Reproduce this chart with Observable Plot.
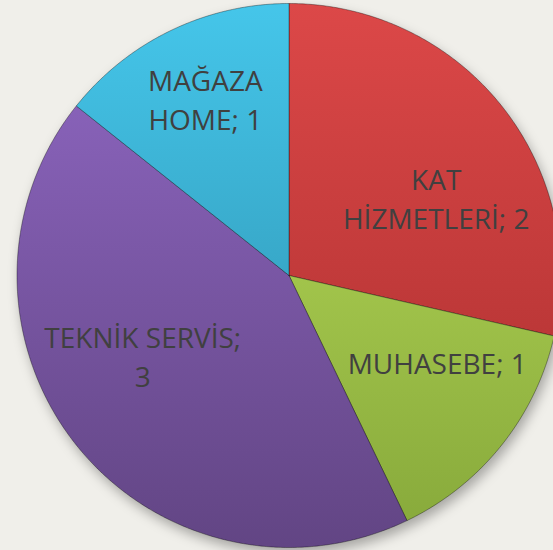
<!DOCTYPE html>
<html>
<head>
<meta charset="utf-8">
<script src="https://cdn.jsdelivr.net/npm/d3@7"></script>
<script src="https://cdn.jsdelivr.net/npm/@observablehq/plot@0.6"></script>
<style>
  html, body { margin: 0; padding: 0; background: #f0efea; }
  #chart svg { display: block; }
</style>
</head>
<body>
<div id="chart"></div>
<script>
// Data
const categories = ["KAT HİZMETLERİ", "MUHASEBE", "TEKNİK SERVİS", "MAĞAZA HOME"];
const values = [2, 1, 3, 1];
const labels = ["KAT\nHİZMETLERİ; 2", "MUHASEBE; 1", "TEKNİK SERVİS;\n3", "MAĞAZA\nHOME; 1"];
const colorsTop = ["#dc4848", "#bde05c", "#9068c4", "#45c6ea"];
const colorsBottom = ["#a82d2d", "#86a83a", "#624584", "#2a89a6"];

const W = 553, H = 550;
const pie = d3.pie().sort(null).value(d => d.value);
const arcs = pie(categories.map((name, i) => ({name, value: values[i], i})));

// polygon points for each slice (unit radius, y up)
const pts = [];
arcs.forEach(a => {
  const name = a.data.name;
  pts.push({name, i: a.data.i, x: 0, y: 0});
  const n = Math.max(2, Math.ceil((a.endAngle - a.startAngle) / (Math.PI / 360)));
  for (let k = 0; k <= n; k++) {
    const t = a.startAngle + (a.endAngle - a.startAngle) * k / n;
    pts.push({name, i: a.data.i, x: Math.sin(t), y: Math.cos(t)});
  }
  pts.push({name, i: a.data.i, x: 0, y: 0});
});

// label anchors at the slice mid-angle
const labelR = 0.65;
const labelData = arcs.map(a => {
  const m = (a.startAngle + a.endAngle) / 2;
  return {name: a.data.name, text: labels[a.data.i], x: labelR * Math.sin(m), y: labelR * Math.cos(m)};
});
const nudges = [[9, 31.5], [10, -24], [-8, -30.5], [-7, -18.5]];

const textStyle = {
  fill: "#404040",
  fontSize: 28,
  fontFamily: "'Open Sans', sans-serif",
  lineHeight: 1.39,
  textAnchor: "middle",
  lineAnchor: "middle"
};

const plot = Plot.plot({
  width: W,
  height: H,
  margin: 0,
  style: {background: "transparent", overflow: "hidden"},
  x: {domain: [-1, 1], range: [16.5, 560.5], axis: null},
  y: {domain: [-1, 1], range: [547, 3], axis: null},
  color: {type: "identity"},
  marks: [
    Plot.line(pts, {
      x: "x", y: "y", z: "name",
      fill: d => `url(#grad-${d.i})`,
      stroke: "rgba(0,0,0,0.35)",
      strokeWidth: 1,
      strokeLinejoin: "round"
    }),
    ...labelData.map((d, i) => Plot.text([d], {
      x: "x", y: "y", text: "text",
      dx: nudges[i][0], dy: nudges[i][1],
      ...textStyle
    }))
  ]
});

// gradients
const ys = plot.scale("y");
const svg = d3.select(plot);
const defs = svg.insert("defs", ":first-child");
categories.forEach((c, i) => {
  const g = defs.append("linearGradient")
    .attr("id", `grad-${i}`)
    .attr("gradientUnits", "userSpaceOnUse")
    .attr("x1", 0).attr("x2", 0)
    .attr("y1", ys.apply(1)).attr("y2", ys.apply(-1));
  g.append("stop").attr("offset", "0").attr("stop-color", colorsTop[i]);
  g.append("stop").attr("offset", "1").attr("stop-color", colorsBottom[i]);
});
svg.select('g[aria-label="line"]')
  .style("filter", "drop-shadow(3px 6px 6px rgba(0,0,0,0.3))");

document.getElementById("chart").append(plot);
</script>
</body>
</html>
